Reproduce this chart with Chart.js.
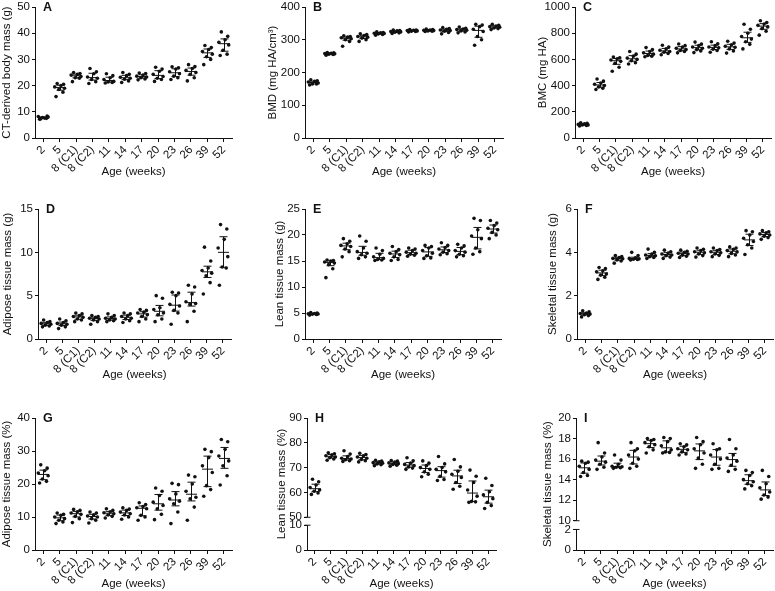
<!DOCTYPE html>
<html><head><meta charset="utf-8">
<script src="https://cdn.jsdelivr.net/npm/chart.js@4.4.1/dist/chart.umd.min.js"></script>
<style>
html,body{margin:0;padding:0;background:#fff;}
body{width:775px;height:591px;position:relative;overflow:hidden;}
canvas{position:absolute;}
</style></head><body>
<script>
// ---------- DATA ----------
const categories = ['2','5','8 (C1)','8 (C2)','11','14','17','20','23','26','39','52'];
const xTitle = 'Age (weeks)';

const bodyMass = [
  [7.2,7.5,7.8,8.0,8.2,7.6,8.4,7.3],
  [15.8,17.5,18.5,19.0,19.5,20.0,20.5,20.8],
  [21.5,22.8,23.0,23.5,24.0,24.3,24.6,25.0],
  [20.8,21.5,22.3,22.8,23.3,24.5,25.3,26.5],
  [21.0,21.2,21.4,21.6,22.3,23.0,23.8,24.5],
  [21.2,21.8,22.4,22.8,23.2,23.8,24.3,25.0],
  [22.2,22.5,23.0,23.3,23.6,24.0,24.6,24.8],
  [21.6,22.3,22.8,23.5,24.3,25.5,26.3,27.0],
  [22.3,23.0,23.6,24.5,25.3,26.3,26.8,27.2],
  [21.8,23.0,24.3,25.0,25.8,26.5,27.3,28.0],
  [28.0,30.0,31.0,32.0,33.0,33.8,34.5,35.3],
  [31.5,32.0,33.5,35.5,36.5,37.5,38.8,40.5]
];
const bodyMassTicks = [0,10,20,30,40,50];

const bmd = [
  [162,165,165,168,171,173,175,178],
  [253,255,256,257,258,259,260,261],
  [280,295,300,303,306,308,310,312],
  [295,300,305,308,310,313,316,318],
  [314,316,318,319,320,321,322,324],
  [319,321,323,324,325,327,328,330],
  [324,325,326,327,328,329,330,331],
  [325,326,327,328,329,330,331,333],
  [318,322,326,328,330,332,334,337],
  [321,324,327,329,331,333,335,339],
  [283,300,310,325,332,340,345,347],
  [331,334,336,338,340,342,344,347]
];
const bmdTicks = [0,100,200,300,400];

const bmc = [
  [92,96,99,100,104,108,112,116],
  [370,380,390,400,410,420,435,450],
  [510,540,570,585,595,605,612,618],
  [565,575,590,600,610,625,640,660],
  [620,625,630,640,650,660,675,690],
  [635,645,655,660,670,680,695,708],
  [650,660,668,675,685,695,705,718],
  [652,665,675,685,695,705,718,732],
  [655,668,678,688,695,705,720,735],
  [648,665,680,692,700,712,725,738],
  [680,715,735,755,775,800,830,868],
  [785,815,835,848,860,870,882,895]
];
const bmcTicks = [0,200,400,600,800,1000];

const adiposeMass = [
  [1.4,1.5,1.6,1.7,1.8,1.9,2.0,2.2],
  [1.2,1.4,1.6,1.7,1.8,1.9,2.1,2.3],
  [2.0,2.2,2.3,2.5,2.6,2.7,2.9,3.0],
  [1.7,2.0,2.2,2.3,2.4,2.5,2.6,2.7],
  [2.0,2.1,2.2,2.3,2.4,2.5,2.7,2.9],
  [1.9,2.1,2.3,2.4,2.6,2.7,2.9,3.0],
  [2.0,2.3,2.6,2.8,3.0,3.1,3.3,3.4],
  [2.0,2.3,2.8,3.0,3.4,3.6,4.7,5.0],
  [1.7,3.0,3.3,3.8,4.0,5.0,5.3,5.4],
  [2.0,3.2,4.0,4.1,4.3,5.2,6.0,6.2],
  [5.2,6.5,7.3,7.6,7.9,8.2,9.0,10.6],
  [6.2,8.2,8.3,9.5,10.5,11.5,12.7,13.2]
];
const adiposeMassTicks = [0,5,10,15];

const leanMass = [
  [4.6,4.7,4.75,4.8,4.85,4.9,5.0,5.1],
  [11.8,13.5,14.3,14.6,14.8,15.0,15.1,15.2],
  [15.8,16.8,17.3,17.8,18.0,18.3,18.8,19.3],
  [15.5,15.8,16.2,16.5,16.8,17.5,18.8,19.8],
  [15.1,15.2,15.3,15.5,15.8,16.3,17.0,17.5],
  [15.1,15.3,15.8,16.2,16.5,16.8,17.2,17.8],
  [15.9,16.1,16.3,16.5,16.7,17.0,17.3,17.5],
  [15.5,15.6,16.0,16.5,17.0,17.5,17.8,18.0],
  [16.2,16.4,16.7,17.0,17.3,17.6,18.0,18.5],
  [15.8,16.0,16.3,16.7,17.0,17.5,17.9,18.2],
  [16.3,16.8,17.5,19.3,19.8,21.0,22.8,23.2],
  [19.3,20.0,20.5,21.0,21.3,21.8,22.3,22.8]
];
const leanMassTicks = [0,5,10,15,20,25];

const skeletalMass = [
  [1.02,1.08,1.12,1.15,1.18,1.2,1.25,1.3],
  [2.75,2.85,2.95,3.0,3.1,3.15,3.25,3.3],
  [3.5,3.6,3.65,3.7,3.72,3.76,3.8,3.85],
  [3.65,3.67,3.68,3.7,3.72,3.75,3.85,4.0],
  [3.72,3.76,3.8,3.84,3.88,3.92,4.0,4.15],
  [3.72,3.78,3.84,3.88,3.92,3.97,4.03,4.1],
  [3.76,3.82,3.87,3.92,3.96,4.0,4.05,4.1],
  [3.78,3.85,3.92,3.98,4.03,4.08,4.14,4.2],
  [3.8,3.86,3.92,3.98,4.03,4.08,4.13,4.2],
  [3.8,3.88,3.95,4.02,4.08,4.14,4.2,4.25],
  [3.9,4.2,4.35,4.5,4.65,4.8,4.95,5.0],
  [4.6,4.68,4.74,4.8,4.85,4.9,4.95,5.0]
];
const skeletalMassTicks = [0,2,4,6];

const adiposePct = [
  [20.3,20.8,21.5,22.5,23.3,24.0,24.8,25.8],
  [8.0,8.5,9.0,9.5,10.0,10.5,10.8,11.2],
  [8.3,9.5,10.2,10.8,11.2,11.6,12.0,12.3],
  [8.2,9.0,9.5,10.0,10.3,10.7,11.2,11.5],
  [9.7,10.2,10.6,11.0,11.3,11.6,12.0,12.5],
  [9.3,10.0,10.6,11.0,11.5,12.0,12.4,12.8],
  [9.0,10.0,10.5,12.5,12.8,13.2,13.8,14.3],
  [9.2,10.8,12.5,13.5,14.5,16.5,17.8,18.8],
  [8.0,11.5,14.0,14.8,15.5,17.0,19.8,20.2],
  [9.0,13.0,15.5,16.0,17.8,20.0,22.2,22.7],
  [16.3,18.3,19.5,23.5,25.5,28.0,29.8,30.5],
  [19.7,22.5,25.5,27.0,28.5,30.5,32.8,33.5]
];
const adiposePctTicks = [0,10,20,30,40];

const leanPct = [
  [59.2,59.8,60.5,61.0,62.0,63.0,64.3,65.3],
  [73.0,73.5,74.0,74.3,74.8,75.2,75.6,76.0],
  [72.5,72.8,73.2,73.5,73.8,74.5,75.5,76.8],
  [72.3,72.8,73.3,73.8,74.3,74.8,75.3,75.8],
  [70.8,71.2,71.5,71.8,72.0,72.3,72.6,73.0],
  [70.6,71.0,71.3,71.6,71.9,72.2,72.6,72.9],
  [69.3,69.8,70.3,70.8,71.3,71.8,72.8,74.0],
  [66.3,67.3,68.3,69.3,70.0,70.8,71.8,72.7],
  [64.8,65.2,66.5,68.3,69.3,70.0,71.5,74.5],
  [61.3,62.5,64.0,66.0,67.3,68.5,70.3,73.3],
  [56.0,56.2,56.4,58.5,61.0,64.0,66.5,69.0],
  [53.5,54.7,56.0,57.5,59.0,60.3,62.8,65.7]
];
const leanPctTicks = [0,10,50,60,70,80,90];

const skeletalPct = [
  [14.3,14.4,14.7,15.0,15.3,15.6,15.7,15.8],
  [15.0,15.2,15.5,15.7,15.9,16.2,16.6,17.6],
  [15.1,15.15,15.2,15.25,15.3,15.5,15.9,16.4],
  [15.1,15.3,15.6,16.0,16.4,16.8,17.0,17.6],
  [16.6,16.9,17.2,17.4,17.6,17.8,17.9,18.0],
  [16.6,16.65,16.7,16.9,17.3,17.7,18.0,18.1],
  [16.4,16.5,16.7,16.9,17.0,17.2,17.4,17.5],
  [15.1,15.5,16.1,16.6,17.0,17.4,17.7,18.1],
  [15.0,15.1,15.5,16.0,16.4,16.9,17.0,17.5],
  [14.8,15.0,15.4,15.8,16.1,16.4,17.0,17.9],
  [13.1,13.4,13.6,13.8,14.0,14.4,14.7,14.9],
  [12.1,12.3,12.5,12.8,13.2,13.6,14.3,14.9]
];
const skeletalPctTicks = [0,2,10,12,14,16,18,20];

// ---------- STYLE / LAYOUT ----------
const FONT = 'Liberation Sans, Arial, Helvetica, sans-serif';
const TICK_FONT = {family: FONT, size: 11.5};
const TITLE_FONT = {family: FONT, size: 11.5, lineHeight: 1.2};
const TITLE_OFF = 11.5 * 1.2 / 2;
const INK = '#111';
const PAD_TOP = 10, PAD_RIGHT = 8;
const JITTER = [-0.22, 0.2, -0.05, 0.3, -0.3, 0.08, 0.24, -0.15];

const rows = [
  {plotTop: 7, plotBottom: 138, titleY: 172},
  {plotTop: 209, plotBottom: 339, titleY: 375},
  {plotTop: 418, plotBottom: 550, titleY: 584}
];

const panels = [
  {letter:'A', title:'CT-derived body mass (g)', values: bodyMass, ticks: bodyMassTicks, row:0, cLeft:0, axisX:35, right:232},
  {letter:'B', title:'BMD (mg HA/cm\u00B3)', values: bmd, ticks: bmdTicks, row:0, cLeft:266, axisX:305, right:503},
  {letter:'C', title:'BMC (mg HA)', values: bmc, ticks: bmcTicks, row:0, cLeft:536, axisX:575, right:771},
  {letter:'D', title:'Adipose tissue mass (g)', values: adiposeMass, ticks: adiposeMassTicks, row:1, cLeft:1, axisX:38, right:231},
  {letter:'E', title:'Lean tissue mass (g)', values: leanMass, ticks: leanMassTicks, row:1, cLeft:273, axisX:305, right:501},
  {letter:'F', title:'Skeletal tissue mass (g)', values: skeletalMass, ticks: skeletalMassTicks, row:1, cLeft:546, axisX:577, right:773},
  {letter:'G', title:'Adipose tissue mass (%)', values: adiposePct, ticks: adiposePctTicks, row:2, cLeft:0, axisX:35, right:232},
  {letter:'H', title:'Lean tissue mass (%)', values: leanPct, ticks: leanPctTicks, row:2, cLeft:275, axisX:307, right:496,
    brk:{lowMax:10, highMin:50, gap:3.2}},
  {letter:'I', title:'Skeletal tissue mass (%)', values: skeletalPct, ticks: skeletalPctTicks, row:2, cLeft:541, axisX:576, right:773,
    brk:{lowMax:2, highMin:10, gap:0.85}}
];

function quantile(sorted, p) {
  const pos = (sorted.length - 1) * p;
  const lo = Math.floor(pos), hi = Math.ceil(pos);
  return sorted[lo] + (sorted[hi] - sorted[lo]) * (pos - lo);
}

const panelPlugin = {
  id: 'panelDeco',
  afterDatasetsDraw(chart, args, opts) {
    const ctx = chart.ctx, xs = chart.scales.x, ys = chart.scales.y, ca = chart.chartArea;
    const line = (x1, y1, x2, y2) => { ctx.beginPath(); ctx.moveTo(x1, y1); ctx.lineTo(x2, y2); ctx.stroke(); };
    ctx.save();
    ctx.strokeStyle = INK; ctx.lineWidth = 1;
    opts.stats.forEach((s, i) => {
      const x = Math.round(xs.getPixelForValue(i)) + 0.5;
      const yl = ys.getPixelForValue(s.lo), yh = ys.getPixelForValue(s.hi), ym = ys.getPixelForValue(s.med);
      line(x, yl, x, yh);
      line(x - 4, yl, x + 4, yl);
      line(x - 4, yh, x + 4, yh);
      line(x - 5.5, ym, x + 5.5, ym);
    });
    if (opts.brk) {
      const T = opts.T, b = opts.brk;
      const ax = Math.round(ca.left) + 0.5;
      const yLow = ys.getPixelForValue(T(b.lowMax)), yHigh = ys.getPixelForValue(T(b.highMin));
      line(ax, ys.getPixelForValue(0), ax, yLow);
      line(ax, yHigh, ax, ys.getPixelForValue(ys.max));
      line(ax - 3, yLow, ax + 3, yLow);
      line(ax - 3, yHigh, ax + 3, yHigh);
    }
    ctx.fillStyle = INK;
    ctx.font = 'bold 12.5px ' + FONT;
    ctx.textBaseline = 'middle';
    ctx.textAlign = 'left';
    ctx.fillText(opts.letter, ca.left + 8, ca.top + 0.5);
    ctx.restore();
  }
};

panels.forEach(p => {
  const r = rows[p.row];
  const top = r.plotTop - PAD_TOP;
  const width = p.right - p.cLeft + PAD_RIGHT;
  const height = Math.round(r.titleY + TITLE_OFF - top);
  const canvas = document.createElement('canvas');
  canvas.width = width; canvas.height = height;
  canvas.style.left = p.cLeft + 'px'; canvas.style.top = top + 'px';
  canvas.style.width = width + 'px'; canvas.style.height = height + 'px';
  document.body.appendChild(canvas);

  const b = p.brk;
  const T = b ? (v => v <= b.lowMax ? v : b.lowMax + b.gap + (v - b.highMin)) : (v => v);
  const points = [];
  const stats = [];
  p.values.forEach((group, i) => {
    group.forEach((v, j) => points.push({x: i + JITTER[j % JITTER.length], y: T(v)}));
    const s = group.slice().sort((a, c) => a - c);
    stats.push({lo: T(quantile(s, 0.25)), med: T(quantile(s, 0.5)), hi: T(quantile(s, 0.75))});
  });
  const yMax = T(p.ticks[p.ticks.length - 1]);

  new Chart(canvas, {
    type: 'scatter',
    data: {datasets: [{data: points, pointRadius: 1.8, pointHoverRadius: 1.8,
      backgroundColor: INK, borderWidth: 0, pointStyle: 'circle'}]},
    options: {
      responsive: false, animation: false, events: [],
      layout: {padding: {top: PAD_TOP, right: PAD_RIGHT, left: 0, bottom: 0}},
      plugins: {legend: {display: false}, tooltip: {enabled: false},
        panelDeco: {stats, letter: p.letter, brk: b, T}},
      scales: {
        x: {
          type: 'linear', min: -0.5, max: categories.length - 0.5,
          afterBuildTicks: s => { s.ticks = categories.map((c, i) => ({value: i})); },
          ticks: {callback: (v) => categories[Math.round(v)], autoSkip: false, minRotation: 45, maxRotation: 45,
            font: TICK_FONT, color: INK, padding: 1},
          grid: {display: true, drawOnChartArea: false, drawTicks: true, tickLength: 4, color: INK, lineWidth: 1},
          border: {display: true, color: INK, width: 1},
          title: {display: true, text: xTitle, font: TITLE_FONT, color: INK, padding: 0},
          afterFit: s => { s.height = Math.round(r.titleY + TITLE_OFF) - r.plotBottom; }
        },
        y: {
          type: 'linear', min: 0, max: yMax,
          afterBuildTicks: s => { s.ticks = p.ticks.map(v => ({value: T(v)})); },
          ticks: {callback: (v, i) => String(p.ticks[i]), autoSkip: false, font: TICK_FONT, color: INK, padding: 2},
          grid: {display: true, drawOnChartArea: false, drawTicks: true, tickLength: 3, color: INK, lineWidth: 1},
          border: {display: !b, color: INK, width: 1},
          title: {display: true, text: p.title, font: TITLE_FONT, color: INK, padding: 0},
          afterFit: s => { s.width = p.axisX - p.cLeft; }
        }
      }
    },
    plugins: [panelPlugin]
  });
});
</script>
</body></html>
